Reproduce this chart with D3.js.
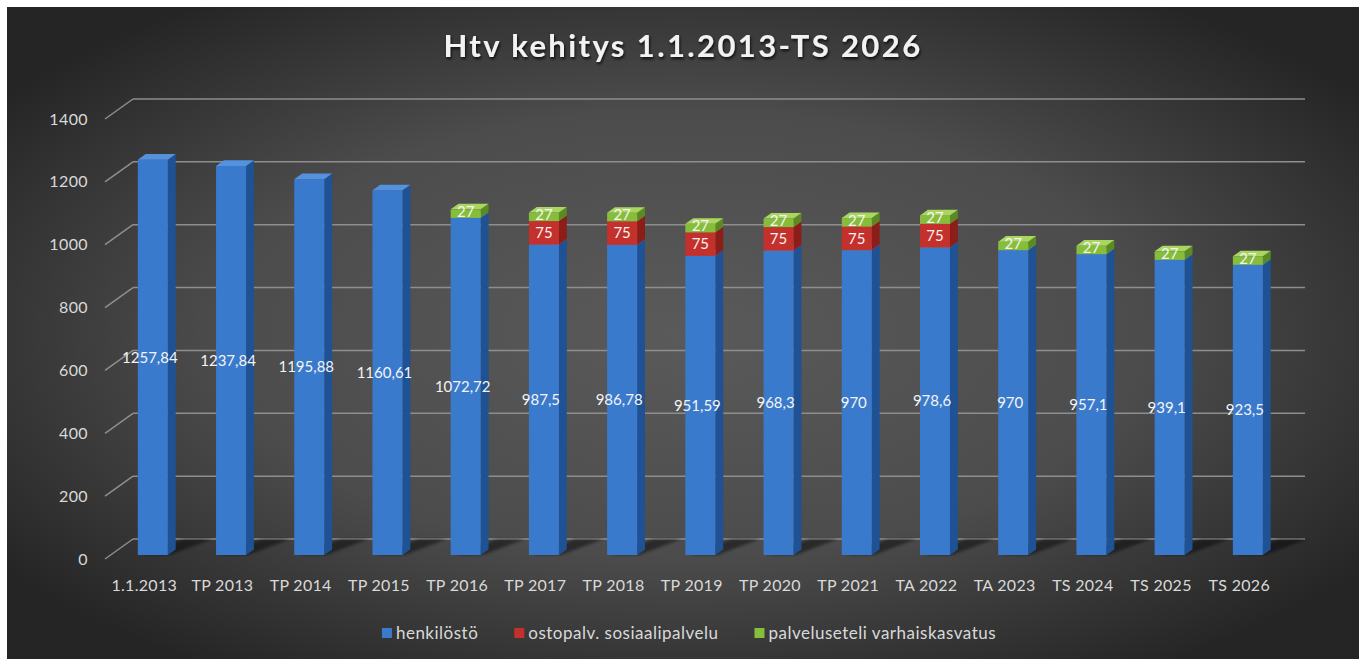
<!DOCTYPE html>
<html>
<head>
<meta charset="utf-8">
<script src="https://cdn.jsdelivr.net/npm/d3@7"></script>
<style>
  body { margin: 0; background: #ffffff; }
  svg { display: block; }
  text { font-family: Lato, "Open Sans", sans-serif; }
</style>
</head>
<body>
<script>
// data
var categories = ["1.1.2013", "TP 2013", "TP 2014", "TP 2015", "TP 2016", "TP 2017", "TP 2018",
                  "TP 2019", "TP 2020", "TP 2021", "TA 2022", "TA 2023", "TS 2024", "TS 2025", "TS 2026"];
var henkilosto = [1257.84, 1237.84, 1195.88, 1160.61, 1072.72, 987.5, 986.78,
                  951.59, 968.3, 970, 978.6, 970, 957.1, 939.1, 923.5];
var ostopalvelu = [0, 0, 0, 0, 0, 75, 75, 75, 75, 75, 75, 0, 0, 0, 0];
var palveluseteli = [0, 0, 0, 0, 27, 27, 27, 27, 27, 27, 27, 27, 27, 27, 27];
var seriesNames = ["henkilöstö", "ostopalv. sosiaalipalvelu", "palveluseteli varhaiskasvatus"];
var yTicks = [0, 200, 400, 600, 800, 1000, 1200, 1400];

var w = 1365;
var h = 659;

// 3d look
var DX = 28, DY = 20;       // full depth offset of the back wall
var d0 = 0.2, d1 = 0.48;    // bar front / back depth

var colors = [
  {front: "#3a7acd", side: "#1f5195", top: "#5592de"},
  {front: "#c4302b", side: "#8c1d19", top: "#d9504a"},
  {front: "#86be3c", side: "#5b8a25", top: "#a9d65e"}
];
var keys = ["s0", "s1", "s2"];

var table = categories.map(function(c, i) {
  return {cat: c, s0: henkilosto[i], s1: ostopalvelu[i], s2: palveluseteli[i]};
});
var stack = d3.stack().keys(keys);
var layers = stack(table);

var svg = d3.select("body")
            .append("svg")
            .attr("width", w)
            .attr("height", h);

var defs = svg.append("defs");
var bg = defs.append("radialGradient")
             .attr("id", "bg")
             .attr("cx", "0.5").attr("cy", "0.5").attr("r", "0.62");
bg.append("stop").attr("offset", "0").attr("stop-color", "#5a5a5a");
bg.append("stop").attr("offset", "0.55").attr("stop-color", "#4c4c4c");
bg.append("stop").attr("offset", "1").attr("stop-color", "#252525");

var shadow = defs.append("filter").attr("id", "tshadow")
                 .attr("x", "-10%").attr("y", "-30%").attr("width", "120%").attr("height", "160%");
shadow.append("feDropShadow")
      .attr("dx", 1).attr("dy", 2).attr("stdDeviation", 1.5)
      .attr("flood-color", "#000").attr("flood-opacity", 0.8);

var blur = defs.append("filter").attr("id", "blur");
blur.append("feGaussianBlur").attr("stdDeviation", 1.5);

svg.append("rect")
   .attr("x", 7).attr("y", 7)
   .attr("width", 1352).attr("height", 652)
   .attr("fill", "url(#bg)");

// scales (front plane)
var x = d3.scaleBand()
          .domain(categories)
          .range([105, 1277])
          .paddingInner(0.616)
          .paddingOuter(0.3)
          .align(0.58);
var y = d3.scaleLinear()
          .domain([0, 1400])
          .range([559, 119]);
var bw = x.bandwidth();

function P(px, v, depth) {
  return [px + depth * DX, y(v) - depth * DY];
}
function pts(arr) {
  return arr.map(function(p) { return p[0] + "," + p[1]; }).join(" ");
}

// gridlines: back wall and left wall
var grid = svg.append("g");
grid.selectAll("line.back")
    .data(yTicks)
    .enter()
    .append("line")
    .attr("class", "back")
    .attr("x1", P(x.range()[0], 0, 1)[0])
    .attr("x2", P(x.range()[1], 0, 1)[0])
    .attr("y1", function(d) { return P(0, d, 1)[1]; })
    .attr("y2", function(d) { return P(0, d, 1)[1]; })
    .attr("stroke", "#8e8e8e")
    .attr("stroke-width", 1.5);
grid.selectAll("line.side")
    .data(yTicks)
    .enter()
    .append("line")
    .attr("class", "side")
    .attr("x1", x.range()[0])
    .attr("y1", function(d) { return y(d); })
    .attr("x2", P(x.range()[0], 0, 1)[0])
    .attr("y2", function(d) { return P(0, d, 1)[1]; })
    .attr("stroke", "#8e8e8e")
    .attr("stroke-width", 1.5);

// y tick labels
svg.selectAll("text.ytick")
   .data(yTicks)
   .enter()
   .append("text")
   .attr("class", "ytick")
   .attr("x", 88)
   .attr("y", function(d) { return y(d); })
   .attr("dy", "0.35em")
   .attr("text-anchor", "end")
   .attr("font-size", 16)
   .attr("letter-spacing", 0.4)
   .attr("fill", "#d9d9d9")
   .text(function(d) { return d; });

// floor shadows
svg.append("g")
   .attr("filter", "url(#blur)")
   .selectAll("polygon")
   .data(categories)
   .enter()
   .append("polygon")
   .attr("points", function(c) {
     var bx = x(c);
     return pts([P(bx + 4, 0, d0), P(bx + bw + 2, 0, d0), P(bx + bw + 22, 0, 1), P(bx + 24, 0, 1)]);
   })
   .attr("fill", "#000")
   .attr("opacity", 0.45);

// bars
var bars = svg.append("g");
layers.forEach(function(layer, k) {
  var g = bars.append("g");
  var segs = layer.filter(function(d) { return d.data[keys[k]] > 0; });

  g.selectAll("polygon.side")
   .data(segs)
   .enter()
   .append("polygon")
   .attr("points", function(d) {
     var bx = x(d.data.cat) + bw;
     return pts([P(bx, d[0], d0), P(bx, d[0], d1), P(bx, d[1], d1), P(bx, d[1], d0)]);
   })
   .attr("fill", colors[k].side);

  g.selectAll("polygon.front")
   .data(segs)
   .enter()
   .append("polygon")
   .attr("points", function(d) {
     var bx = x(d.data.cat);
     return pts([P(bx, d[0], d0), P(bx + bw, d[0], d0), P(bx + bw, d[1], d0), P(bx, d[1], d0)]);
   })
   .attr("fill", colors[k].front);

  g.selectAll("polygon.top")
   .data(segs)
   .enter()
   .append("polygon")
   .attr("points", function(d) {
     var bx = x(d.data.cat);
     return pts([P(bx, d[1], d0), P(bx + bw, d[1], d0), P(bx + bw, d[1], d1), P(bx, d[1], d1)]);
   })
   .attr("fill", colors[k].top);
});

// value labels
function fmt(v) { return String(v).replace(".", ","); }

layers.forEach(function(layer, k) {
  var segs = layer.filter(function(d) { return d.data[keys[k]] > 0; });
  svg.append("g")
     .selectAll("text")
     .data(segs)
     .enter()
     .append("text")
     .attr("x", function(d) {
       var off = k == 0 ? -3 : 0;
       return P(x(d.data.cat) + bw / 2 + off, 0, d0)[0];
     })
     .attr("y", function(d) {
       var mid = P(0, (d[0] + d[1]) / 2, d0)[1];
       return k == 2 ? mid - 2 : mid;
     })
     .attr("dy", "0.35em")
     .attr("text-anchor", "middle")
     .attr("font-size", 15)
     .attr("fill", "#f4f4f4")
     .text(function(d) { return fmt(d.data[keys[k]]); });
});

// category labels
svg.selectAll("text.xcat")
   .data(categories)
   .enter()
   .append("text")
   .attr("class", "xcat")
   .attr("x", function(c) { return x(c) + bw / 2 - 3; })
   .attr("y", 585)
   .attr("dy", "0.35em")
   .attr("text-anchor", "middle")
   .attr("font-size", 16)
   .attr("letter-spacing", 0.3)
   .attr("fill", "#d9d9d9")
   .text(function(c) { return c; });

// title
svg.append("text")
   .attr("x", 683)
   .attr("y", 57)
   .attr("text-anchor", "middle")
   .attr("font-size", 31)
   .attr("font-weight", "bold")
   .attr("letter-spacing", 2.4)
   .attr("fill", "#f2f2f2")
   .attr("filter", "url(#tshadow)")
   .text("Htv kehitys 1.1.2013-TS 2026");

// legend
var legend = svg.append("g");
var items = legend.selectAll("g")
                  .data(seriesNames)
                  .enter()
                  .append("g");
items.append("rect")
     .attr("width", 10).attr("height", 10)
     .attr("y", 628)
     .attr("fill", function(d, i) { return colors[i].front; });
items.append("text")
     .attr("x", 14)
     .attr("y", 633)
     .attr("dy", "0.35em")
     .attr("font-size", 17)
     .attr("letter-spacing", 0.5)
     .attr("fill", "#d9d9d9")
     .text(function(d) { return d; });

var pos = 0;
var gap = 36;
items.each(function() {
  var t = d3.select(this).select("text").node().getComputedTextLength();
  d3.select(this).attr("data-x", pos);
  pos += 14 + t + gap;
});
var total = pos - gap;
var start = 689 - total / 2;
items.attr("transform", function() {
  return "translate(" + (start + (+d3.select(this).attr("data-x"))) + ",0)";
});
</script>
</body>
</html>
